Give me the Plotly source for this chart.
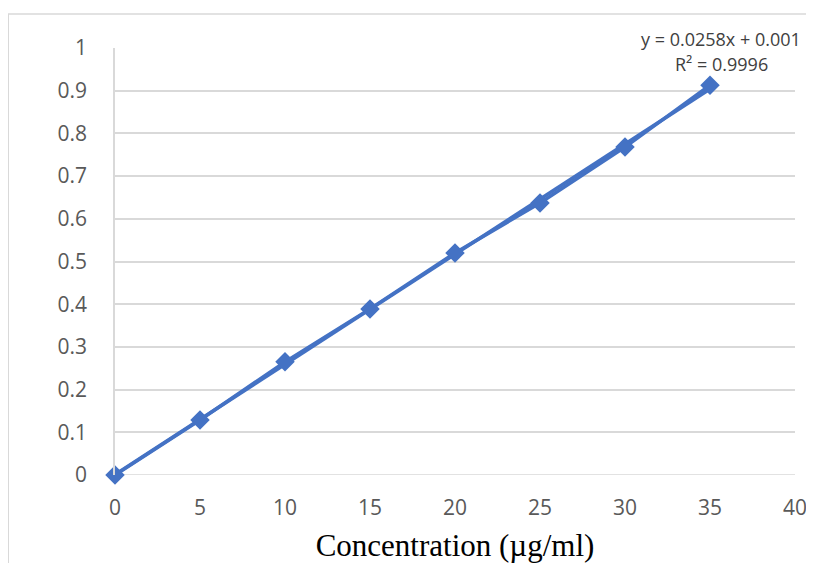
import plotly.graph_objects as go

conc = [0, 5, 10, 15, 20, 25, 30, 35]
absorb = [0, 0.129, 0.265, 0.389, 0.52, 0.637, 0.768, 0.913]
slope = 0.0258
intercept = 0.001
r2 = 0.9996
x_ticks = [0, 5, 10, 15, 20, 25, 30, 35, 40]
y_ticks = [0, 0.1, 0.2, 0.3, 0.4, 0.5, 0.6, 0.7, 0.8, 0.9, 1]

blue = "#4472C4"
trend_x = [conc[0], conc[-1]]
trend_y = [slope * v + intercept for v in trend_x]

fig = go.Figure()
fig.add_trace(go.Scatter(x=trend_x, y=trend_y, mode="lines",
                         line=dict(color=blue, width=3.5), showlegend=False,
                         cliponaxis=False))
fig.add_trace(go.Scatter(x=conc, y=absorb, mode="lines+markers",
                         line=dict(color=blue, width=3.5),
                         marker=dict(symbol="diamond", size=15, color=blue),
                         showlegend=False, cliponaxis=False))

fig.update_layout(
    width=806, height=555,
    margin=dict(l=107, r=19, t=40, b=88, autoexpand=False),
    paper_bgcolor="white", plot_bgcolor="white",
    font=dict(family="Open Sans, Liberation Sans, sans-serif", color="#595959", size=21),
    xaxis=dict(range=[0, 40], tickvals=x_ticks, showgrid=False, zeroline=False,
               showline=False, ticks="", ticklabelstandoff=18, automargin=False,
               ticklabeloverflow="allow",
               title=dict(text="Concentration (µg/ml)", standoff=20,
                          font=dict(family="Liberation Serif, Times New Roman, serif",
                                    size=31, color="black"))),
    yaxis=dict(range=[0, 1], tickvals=y_ticks, ticktext=[f"{v:g}" for v in y_ticks],
               showgrid=True, gridcolor="#D9D9D9", gridwidth=1.5, zeroline=False,
               showline=True, linecolor="#D9D9D9", linewidth=1.5, ticks="",
               ticklabelstandoff=22, automargin=False, ticklabeloverflow="allow"),
    shapes=[
        dict(type="rect", xref="paper", yref="paper", x0=-0.157, x1=1.1,
             y0=-0.25, y1=1.0796, line=dict(color="#D9D9D9", width=1.5), layer="below"),
        dict(type="line", xref="paper", yref="y", x0=0, x1=1, y0=0, y1=0,
             line=dict(color="#D9D9D9", width=1.5), layer="below"),
    ],
    annotations=[
        dict(xref="paper", yref="paper", x=(721 - 115) / 680, y=(475 - 39) / 427,
             xanchor="center", yanchor="middle",
             text=f"y = {slope}x + {intercept}", showarrow=False,
             font=dict(size=18, color="#404040")),
        dict(xref="paper", yref="paper", x=(721 - 115) / 680, y=(475 - 64) / 427,
             xanchor="center", yanchor="middle",
             text=f"R² = {r2}", showarrow=False,
             font=dict(size=18, color="#404040")),
    ],
)
fig.write_html("out.html")
